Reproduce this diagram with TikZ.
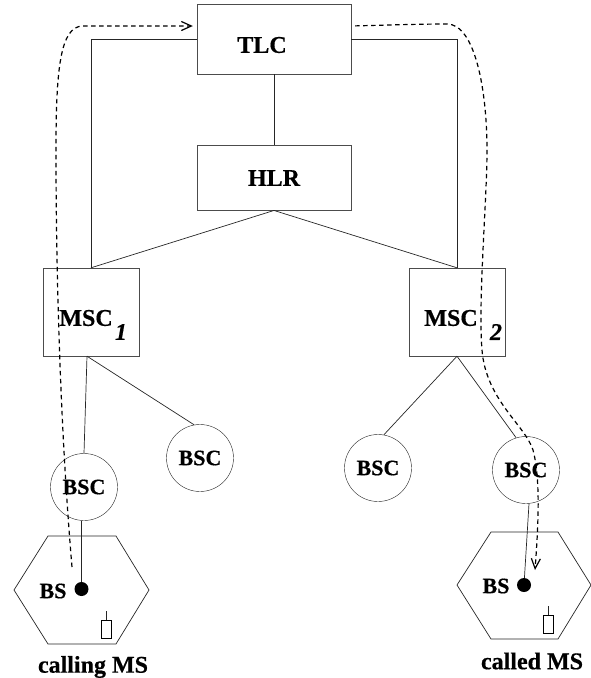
\documentclass[tikz,border=0pt]{standalone}
\usepackage{fontspec}
\setmainfont[BoldFeatures={FakeBold=0.5},BoldItalicFeatures={FakeBold=0.5}]{Liberation Serif}
\usetikzlibrary{arrows.meta}
\tikzset{
  netbox/.style={draw=black!70, rectangle, minimum width=#1, minimum height=70pt, inner sep=0pt},
  bsc/.style={draw=black!85, circle, minimum size=67pt, inner sep=0pt, font=\fontsize{22}{24}\selectfont\bfseries},
  lbl/.style={inner sep=0pt, font=\fontsize{22}{24}\selectfont\bfseries},
  bigsize/.style={inner sep=0pt, font=\fontsize{24}{26}\selectfont\bfseries},
  link/.style={draw=black!85, line width=0.7pt},
  callpath/.style={line width=1.2pt, dash pattern=on 4.5pt off 3.5pt, -{Straight Barb[length=10pt,width=9pt]}},
}
\begin{document}
\begin{tikzpicture}[x=1pt,y=-1pt]
      \useasboundingbox (0,0) rectangle (591,678);

      % Boxes of the network
      \node[netbox=154pt] (TLC) at (274,39) {};
      \node[netbox=154pt, minimum height=65pt, line width=0.9pt] (HLR) at (274,177.5) {};
      \node[netbox=96pt, minimum height=88pt] (MSCa) at (91,312) {};
      \node[netbox=96pt, minimum height=88pt] (MSCb) at (457,312) {};

      % Labels of the boxes
      \node[bigsize] (TLClabel) at (262,45) {TLC};
      \node[bigsize] (HLRlabel) at (274,178) {HLR};
      \node[bigsize] (MSCalabel) at (86,318) {MSC};
      \node[bigsize] (MSCblabel) at (451,318) {MSC};
      \node[bigsize, font=\fontsize{24}{26}\selectfont\bfseries\itshape] (onelabel) at (121,332) {1};
      \node[bigsize, font=\fontsize{24}{26}\selectfont\bfseries\itshape] (twolabel) at (496,332) {2};

      % Base station controllers
      \node[bsc] (BSCa) at (84,487) {BSC};
      \node[bsc] (BSCb) at (200,458) {BSC};
      \node[bsc] (BSCc) at (378,468) {BSC};
      \node[bsc] (BSCd) at (526,470) {BSC};

      % The two cells
      \draw[link] (14,590) -- (48,536) -- (116,536) -- (149,590) -- (116,644) -- (48,644) -- cycle;
      \draw[link] (457,585) -- (491,532) -- (558,532) -- (591,585) -- (558,639) -- (491,639) -- cycle;

      % Base stations
      \node[circle, fill=black, minimum size=14pt, inner sep=0pt] (BSa) at (81.5,589) {};
      \node[circle, fill=black, minimum size=14pt, inner sep=0pt] (BSb) at (524,585) {};
      \node[lbl] (BSalabel) at (53,591) {BS};
      \node[lbl] (BSblabel) at (496,586) {BS};

      % Mobile stations
      \node[draw, line width=0.8pt, minimum width=10pt, minimum height=18pt, inner sep=0pt] (MSa) at (106,629) {};
      \node[draw, line width=0.8pt, minimum width=10pt, minimum height=18pt, inner sep=0pt] (MSb) at (548,624.5) {};
      \coordinate (tipa) at (106,611);
      \coordinate (tipb) at (548,606);
      \draw[link] (MSa.north) -- (tipa);
      \draw[link] (MSb.north) -- (tipb);
      \node[bigsize] (calling) at (93,667) {calling MS};
      \node[bigsize] (called) at (532,661) {called MS};

      % Wired links
      \draw[link] (TLC.west) -| (MSCa.north);
      \draw[link] (TLC.east) -| (MSCb.north);
      \draw[link] (TLC.south) -- (HLR.north);
      \draw[link] (HLR.south) -- (MSCa.north);
      \draw[link] (HLR.south) -- (MSCb.north);
      \draw[link] ([xshift=-4pt]MSCa.south) -- (BSCa.north);
      \draw[link] ([xshift=-4pt]MSCa.south) -- (BSCb.100);
      \draw[link] (MSCb.south) -- (BSCc.80);
      \draw[link] (MSCb.south) -- (BSCd.107);
      \draw[link] ([xshift=-2.5pt]BSCa.south) -- (BSa);
      \draw[link] ([xshift=3pt]BSCd.south) -- (BSb);

      % Call path, out of the calling cell and into the called one
      \coordinate (callfrom) at (72,567);
      \coordinate (callto) at (535,570);
      \draw[callpath, shorten >=4pt] (callfrom) .. controls (62,450) and (56,300) .. (56,150)
        .. controls (56,70) and (60,26) .. (83,26) -- ([yshift=13pt]TLC.west);
      \draw[callpath, shorten <=4pt] ([yshift=13pt]TLC.east) .. controls (390,25) and (420,24) .. (447,24)
        .. controls (475,24) and (487,90) .. (487,150)
        .. controls (487,200) and (478,300) .. (482,350)
        .. controls (486,400) and (525,425) .. (533,450)
        .. controls (541,480) and (538,530) .. (callto);
\end{tikzpicture}
\end{document}
